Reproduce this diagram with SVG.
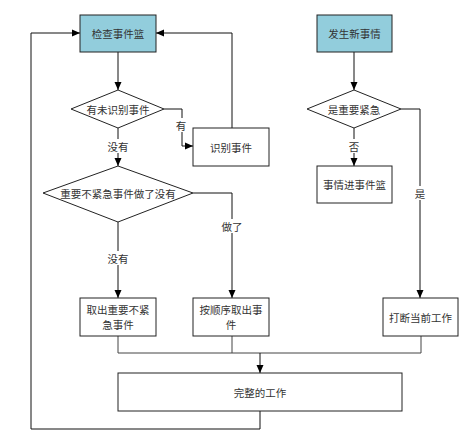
<svg xmlns="http://www.w3.org/2000/svg" width="466" height="446" viewBox="0 0 466 446">
<style>
.box{fill:#fff;stroke:#222;stroke-width:1}
.hl{fill:#92CDDC;stroke:#222;stroke-width:1}
.dia{fill:#fff;stroke:#222;stroke-width:1}
.t{font-family:"Noto Sans CJK SC","Noto Sans",sans-serif;font-size:10.5px;fill:#333;text-anchor:middle;dominant-baseline:central}
.c{fill:none;stroke:#111;stroke-width:1}
.g{fill:none;stroke:#444;stroke-width:1}
.lbl{fill:#fff}
</style>
<defs>
<marker id="ah" markerWidth="8" markerHeight="8" refX="8" refY="4" orient="auto" markerUnits="userSpaceOnUse">
<path d="M0,0.5 L8,4 L0,7.5 Z" fill="#000"/>
</marker>
</defs>
<rect width="466" height="446" fill="#fff"/>
<g id="connectors">
<path class="c" d="M118,52 V90" marker-end="url(#ah)"/>
<path class="c" d="M164,109 H182 V146 H193" marker-end="url(#ah)"/>
<path class="c" d="M232,128 V33 H156" marker-end="url(#ah)"/>
<path class="c" d="M118,128 V166" marker-end="url(#ah)"/>
<path class="c" d="M118,222 V298" marker-end="url(#ah)"/>
<path class="c" d="M193,193 H232 V298" marker-end="url(#ah)"/>
<path class="c" d="M354,52 V90" marker-end="url(#ah)"/>
<path class="c" d="M354,128 V166" marker-end="url(#ah)"/>
<path class="c" d="M401,109 H420 V298" marker-end="url(#ah)"/>
<path class="g" d="M118,336 V353 H421 V336"/>
<path class="g" d="M232,336 V353"/>
<path class="c" d="M260,353 V373" stroke-width="2" marker-end="url(#ah)"/>
<path class="c" d="M260,411 V429 H31 V33 H80" marker-end="url(#ah)"/>
<rect class="lbl" x="174" y="118" width="14" height="14"/>
<text class="t" x="181" y="125">有</text>
<rect class="lbl" x="106" y="139" width="24" height="14"/>
<text class="t" x="118" y="146">没有</text>
<rect class="lbl" x="106" y="251" width="24" height="14"/>
<text class="t" x="118" y="258">没有</text>
<rect class="lbl" x="220" y="219" width="24" height="14"/>
<text class="t" x="232" y="226">做了</text>
<rect class="lbl" x="347" y="139" width="14" height="14"/>
<text class="t" x="354" y="146">否</text>
<rect class="lbl" x="413" y="186" width="14" height="14"/>
<text class="t" x="420" y="193">是</text>
</g>
<g id="n1"><rect class="hl" x="80" y="15" width="76" height="37"/><text class="t" x="118" y="33.5">检查事件篮</text></g>
<g id="n2"><rect class="hl" x="317" y="15" width="75" height="37"/><text class="t" x="354.5" y="33.5">发生新事情</text></g>
<g id="d1"><polygon class="dia" points="118,90 164,109 118,128 71,109"/><text class="t" x="118" y="109">有未识别事件</text></g>
<g id="n3"><rect class="box" x="193" y="128" width="76" height="38"/><text class="t" x="231" y="147">识别事件</text></g>
<g id="d2"><polygon class="dia" points="354,90 401,109 354,128 307,109"/><text class="t" x="354" y="109">是重要紧急</text></g>
<g id="n4"><rect class="box" x="317" y="166" width="75" height="37"/><text class="t" x="354.5" y="184.5">事情进事件篮</text></g>
<g id="d3"><polygon class="dia" points="118,166 193,193 118,222 43,193"/><text class="t" x="118" y="193">重要不紧急事件做了没有</text></g>
<g id="n5"><rect class="box" x="80" y="298" width="76" height="38"/><text class="t" x="118" y="309">取出重要不紧</text><text class="t" x="118" y="324.5">急事件</text></g>
<g id="n6"><rect class="box" x="193" y="298" width="76" height="38"/><text class="t" x="231" y="309">按顺序取出事</text><text class="t" x="231" y="324.5">件</text></g>
<g id="n7"><rect class="box" x="383" y="298" width="75" height="38"/><text class="t" x="420.5" y="317">打断当前工作</text></g>
<g id="n8"><rect class="box" x="118" y="373" width="284" height="38"/><text class="t" x="260" y="392">完整的工作</text></g>
</svg>
